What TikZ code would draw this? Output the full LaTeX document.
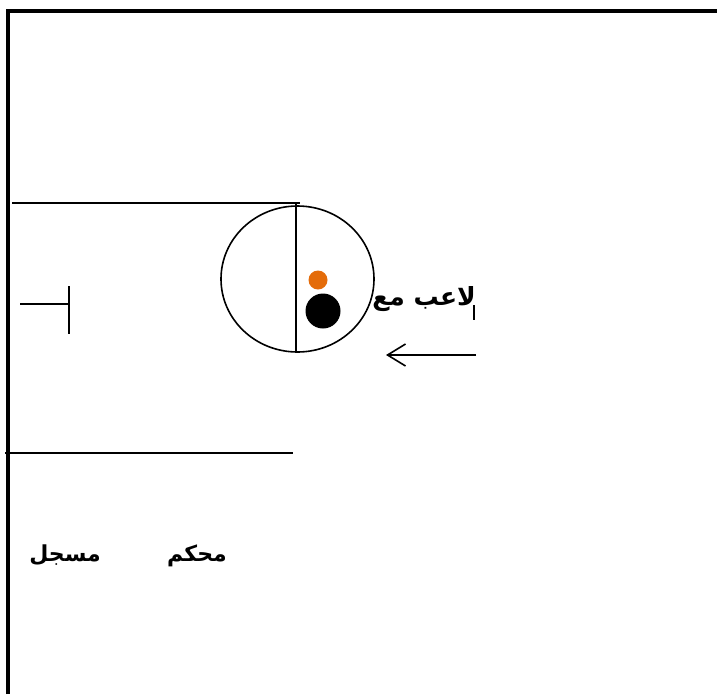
\documentclass[tikz,border=0pt]{standalone}
\usepackage{fontspec}
\usetikzlibrary{arrows.meta,shapes.geometric}
\TeXXeTstate=1
\newfontfamily\arabicfont[Script=Arabic]{DejaVu Sans}
\definecolor{dotorange}{RGB}{228,108,10}
\begin{document}
\begin{tikzpicture}[x=1pt,y=-1pt,
  thinline/.style={line width=1.6pt},
  framestyle/.style={line width=3.8pt},
  lbl/.style={font=\arabicfont\bfseries\fontsize{25}{30}\selectfont, inner sep=0pt},
  smalllbl/.style={font=\arabicfont\bfseries\fontsize{22}{26}\selectfont, inner sep=0pt}]
\useasboundingbox (0,0) rectangle (717,694);
% frame
\coordinate (fb) at (8,694);
\coordinate (fc) at (8,11);
\coordinate (fr) at (717,11);
\draw[framestyle] (fb) -- (fc) -- (fr);
% field lines
\coordinate (t1) at (12,203);
\coordinate (t2) at (300,203);
\draw[thinline] (t1) -- (t2);
\coordinate (b1) at (5,453);
\coordinate (b2) at (293,453);
\draw[thinline] (b1) -- (b2);
% circle
\node[draw, line width=1.6pt, ellipse, minimum width=153pt, minimum height=146pt, inner sep=0pt] (circ) at (297.5,279) {};
\coordinate (v1) at (296,204);
\coordinate (v2) at (296,352);
\draw[thinline] (v1) -- (v2);
% dots
\fill[dotorange] (318,280) circle (9.5);
\fill[black] (323,311) circle (17.5);
% T mark
\coordinate (h1) at (20,304);
\coordinate (h2) at (69,304);
\coordinate (w1) at (69,286);
\coordinate (w2) at (69,334);
\draw[thinline] (h1) -- (h2);
\draw[thinline] (w1) -- (w2);
% text
\node[lbl, anchor=base east] (player) at (476,305) {\beginR لاعب مع\endR};
\coordinate (s1) at (474,305);
\coordinate (s2) at (474,320);
\draw[line width=1.2pt] (s1) -- (s2);
% arrow
\coordinate (a1) at (476,355);
\coordinate (a2) at (386,355);
\draw[thinline, -{Straight Barb[length=18pt,width=22pt,line width=1.6pt]}] (a1) -- (a2);
% labels
\node[smalllbl, anchor=base] (judge) at (197,561) {\beginR محكم\endR};
\node[smalllbl, anchor=base] (scorer) at (65,561) {\beginR مسجل\endR};
\end{tikzpicture}
\end{document}
